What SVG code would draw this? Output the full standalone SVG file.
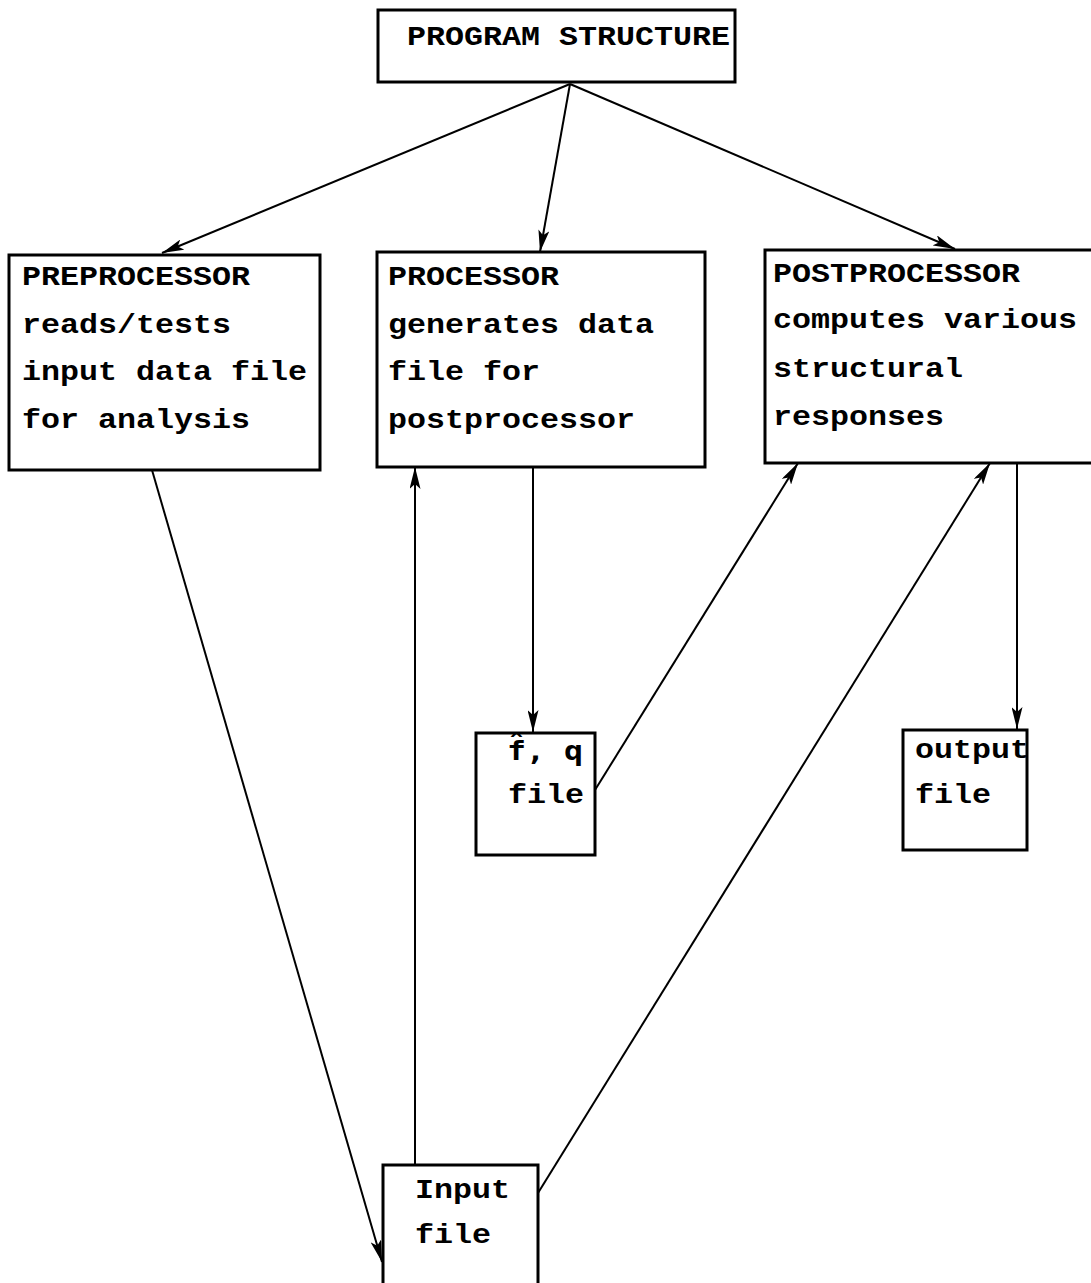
<svg xmlns="http://www.w3.org/2000/svg" width="1091" height="1283" viewBox="0 0 1091 1283">
<style>
.box{fill:#fff;stroke:#000;stroke-width:3}
.t{font-family:"Liberation Mono","DejaVu Sans Mono",monospace;font-size:27px;font-weight:bold;fill:#000}
.hat{font-family:"DejaVu Sans Mono","Liberation Mono",monospace}
.c{fill:none;stroke:#000;stroke-width:2}
</style>
<defs>
<marker id="ah" viewBox="0 0 22 11" refX="22" refY="5.5" markerWidth="22" markerHeight="11" markerUnits="userSpaceOnUse" orient="auto">
<path d="M0,0 L22,5.5 L0,11 L5,5.5 Z" fill="#000"/>
</marker>
</defs>
<rect width="1091" height="1283" fill="#fff"/>
<g id="connectors">
<line class="c" x1="570" y1="84" x2="162" y2="253" marker-end="url(#ah)"/>
<line class="c" x1="570" y1="84" x2="540" y2="252" marker-end="url(#ah)"/>
<line class="c" x1="570" y1="84" x2="955" y2="249" marker-end="url(#ah)"/>
<line class="c" x1="152" y1="470" x2="382" y2="1262" marker-end="url(#ah)"/>
<line class="c" x1="415" y1="1165" x2="415" y2="467" marker-end="url(#ah)"/>
<line class="c" x1="533" y1="467" x2="533" y2="732" marker-end="url(#ah)"/>
<line class="c" x1="595" y1="790" x2="798" y2="463" marker-end="url(#ah)"/>
<line class="c" x1="538" y1="1193" x2="990" y2="463" marker-end="url(#ah)"/>
<line class="c" x1="1017" y1="463" x2="1017" y2="729" marker-end="url(#ah)"/>
</g>
<g id="program-structure">
<rect class="box" x="378" y="10" width="357" height="72"/>
<text class="t" x="407" y="45" textLength="323" lengthAdjust="spacingAndGlyphs">PROGRAM STRUCTURE</text>
</g>
<g id="preprocessor">
<rect class="box" x="9" y="255" width="311" height="215"/>
<text class="t" x="22" y="285" textLength="228" lengthAdjust="spacingAndGlyphs">PREPROCESSOR</text>
<text class="t" x="22" y="333" textLength="209" lengthAdjust="spacingAndGlyphs">reads/tests</text>
<text class="t" x="22" y="380" textLength="285" lengthAdjust="spacingAndGlyphs">input data file</text>
<text class="t" x="22" y="428" textLength="228" lengthAdjust="spacingAndGlyphs">for analysis</text>
</g>
<g id="processor">
<rect class="box" x="377" y="252" width="328" height="215"/>
<text class="t" x="388" y="285" textLength="171" lengthAdjust="spacingAndGlyphs">PROCESSOR</text>
<text class="t" x="388" y="333" textLength="266" lengthAdjust="spacingAndGlyphs">generates data</text>
<text class="t" x="388" y="380" textLength="152" lengthAdjust="spacingAndGlyphs">file for</text>
<text class="t" x="388" y="428" textLength="247" lengthAdjust="spacingAndGlyphs">postprocessor</text>
</g>
<g id="postprocessor">
<rect class="box" x="765" y="250" width="340" height="213"/>
<text class="t" x="773" y="282" textLength="247" lengthAdjust="spacingAndGlyphs">POSTPROCESSOR</text>
<text class="t" x="773" y="328" textLength="304" lengthAdjust="spacingAndGlyphs">computes various</text>
<text class="t" x="773" y="377" textLength="190" lengthAdjust="spacingAndGlyphs">structural</text>
<text class="t" x="773" y="425" textLength="171" lengthAdjust="spacingAndGlyphs">responses</text>
</g>
<g id="fq-file">
<rect class="box" x="476" y="733" width="119" height="122"/>
<text class="t hat" transform="translate(507,760) scale(1.17,1)">f̂, q</text>
<text class="t" x="508" y="803" textLength="76" lengthAdjust="spacingAndGlyphs">file</text>
</g>
<g id="output-file">
<rect class="box" x="903" y="730" width="124" height="120"/>
<text class="t" x="915" y="758" textLength="114" lengthAdjust="spacingAndGlyphs">output</text>
<text class="t" x="915" y="803" textLength="76" lengthAdjust="spacingAndGlyphs">file</text>
</g>
<g id="input-file">
<rect class="box" x="383" y="1165" width="155" height="140"/>
<text class="t" x="415" y="1198" textLength="95" lengthAdjust="spacingAndGlyphs">Input</text>
<text class="t" x="415" y="1243" textLength="76" lengthAdjust="spacingAndGlyphs">file</text>
</g>
</svg>
